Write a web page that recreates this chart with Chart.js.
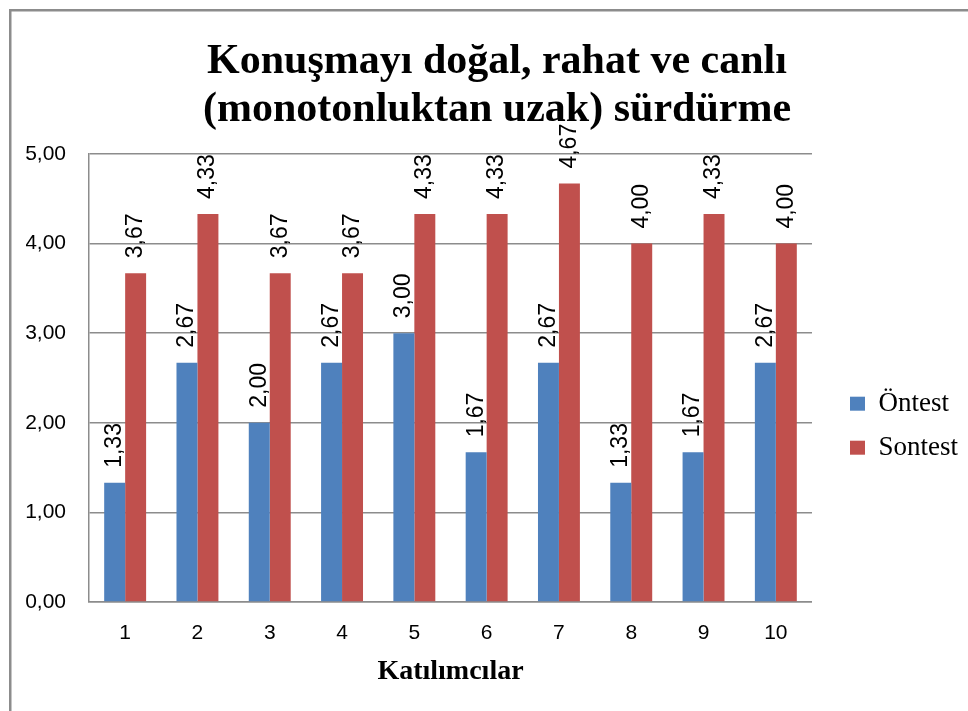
<!DOCTYPE html>
<html>
<head>
<meta charset="utf-8">
<script src="https://cdn.jsdelivr.net/npm/chart.js@4.4.1/dist/chart.umd.min.js"></script>
<style>
html,body{margin:0;padding:0;background:#fff;overflow:hidden;}
#wrap{position:relative;width:968px;height:711px;}
</style>
</head>
<body>
<div id="wrap"><canvas id="c" width="968" height="711"></canvas></div>
<script>
const titleLines = ['Konuşmayı doğal, rahat ve canlı', '(monotonluktan uzak) sürdürme'];
const categories = ['1','2','3','4','5','6','7','8','9','10'];
const ontest = [1.33, 2.67, 2.00, 2.67, 3.00, 1.67, 2.67, 1.33, 1.67, 2.67];
const sontest = [3.67, 4.33, 3.67, 3.67, 4.33, 4.33, 4.67, 4.00, 4.33, 4.00];
const seriesNames = ['Öntest', 'Sontest'];
const xTitle = 'Katılımcılar';
const yTicks = [0, 1, 2, 3, 4, 5];

const fmt = v => Number(v).toFixed(2).replace('.', ',');

const frame = {
  id: 'frame',
  beforeDraw(chart) {
    const ctx = chart.ctx;
    ctx.save();
    ctx.fillStyle = '#fff';
    ctx.fillRect(0, 0, chart.width, chart.height);
    ctx.fillStyle = '#8c8c8c';
    ctx.fillRect(9, 9, chart.width - 9, 2.5);
    ctx.fillRect(9, 9, 2.5, chart.height - 9);
    ctx.restore();
  }
};

const barLabels = {
  id: 'barLabels',
  afterDatasetsDraw(chart) {
    const ctx = chart.ctx;
    ctx.save();
    ctx.font = '23px "Liberation Sans", Arial, sans-serif';
    ctx.fillStyle = '#000';
    ctx.textAlign = 'left';
    ctx.textBaseline = 'middle';
    chart.data.datasets.forEach((ds, di) => {
      const meta = chart.getDatasetMeta(di);
      meta.data.forEach((bar, i) => {
        ctx.save();
        ctx.translate(bar.x, bar.y - 15);
        ctx.rotate(-Math.PI / 2);
        ctx.fillText(fmt(ds.data[i]), 0, 0);
        ctx.restore();
      });
    });
    ctx.restore();
  }
};

new Chart(document.getElementById('c'), {
  type: 'bar',
  data: {
    labels: categories,
    datasets: [
      { label: seriesNames[0], data: ontest, backgroundColor: '#4F81BD', borderWidth: 0 },
      { label: seriesNames[1], data: sontest, backgroundColor: '#C0504D', borderWidth: 0 }
    ]
  },
  options: {
    responsive: false,
    animation: false,
    devicePixelRatio: 1,
    categoryPercentage: 0.58,
    barPercentage: 1,
    layout: { padding: { left: 26, right: 0, top: 0, bottom: 0 } },
    plugins: {
      title: {
        display: true,
        text: titleLines,
        color: '#000',
        font: { family: '"Liberation Serif", "Times New Roman", serif', size: 42, weight: 'bold', lineHeight: 48 / 42 },
        padding: { top: 38, bottom: 20 }
      },
      legend: {
        position: 'right',
        align: 'center',
        title: { display: true, text: ' ', padding: { top: 126, bottom: 0 }, font: { size: 12 } },
        labels: {
          color: '#000',
          boxWidth: 15,
          boxHeight: 14,
          padding: 17,
          font: { family: '"Liberation Serif", "Times New Roman", serif', size: 27 }
        }
      },
      tooltip: { enabled: false }
    },
    scales: {
      x: {
        afterFit: s => { s.height = 109; },
        grid: { display: false, drawTicks: false },
        border: { display: true, color: '#8c8c8c', width: 1.5 },
        ticks: { color: '#000', padding: 19, font: { family: '"Liberation Sans", Arial, sans-serif', size: 21 } },
        title: {
          display: true,
          text: xTitle,
          color: '#000',
          padding: { top: 0, bottom: 22 },
          font: { family: '"Liberation Serif", "Times New Roman", serif', size: 28, weight: 'bold' }
        }
      },
      y: {
        min: 0,
        max: 5,
        afterBuildTicks: s => { s.ticks = yTicks.map(v => ({ value: v })); },
        afterFit: s => { s.width = 63; },
        grid: { color: '#8c8c8c', lineWidth: 1.5, drawTicks: false },
        border: { display: true, color: '#8c8c8c', width: 1.5 },
        ticks: {
          color: '#000',
          padding: 23,
          font: { family: '"Liberation Sans", Arial, sans-serif', size: 21 },
          callback: v => fmt(v)
        }
      },
      y2: {
        position: 'right',
        display: true,
        grid: { display: false, drawTicks: false },
        border: { display: false },
        ticks: { display: false },
        afterFit: s => { s.width = 21; }
      }
    }
  },
  plugins: [frame, barLabels]
});
</script>
</body>
</html>
